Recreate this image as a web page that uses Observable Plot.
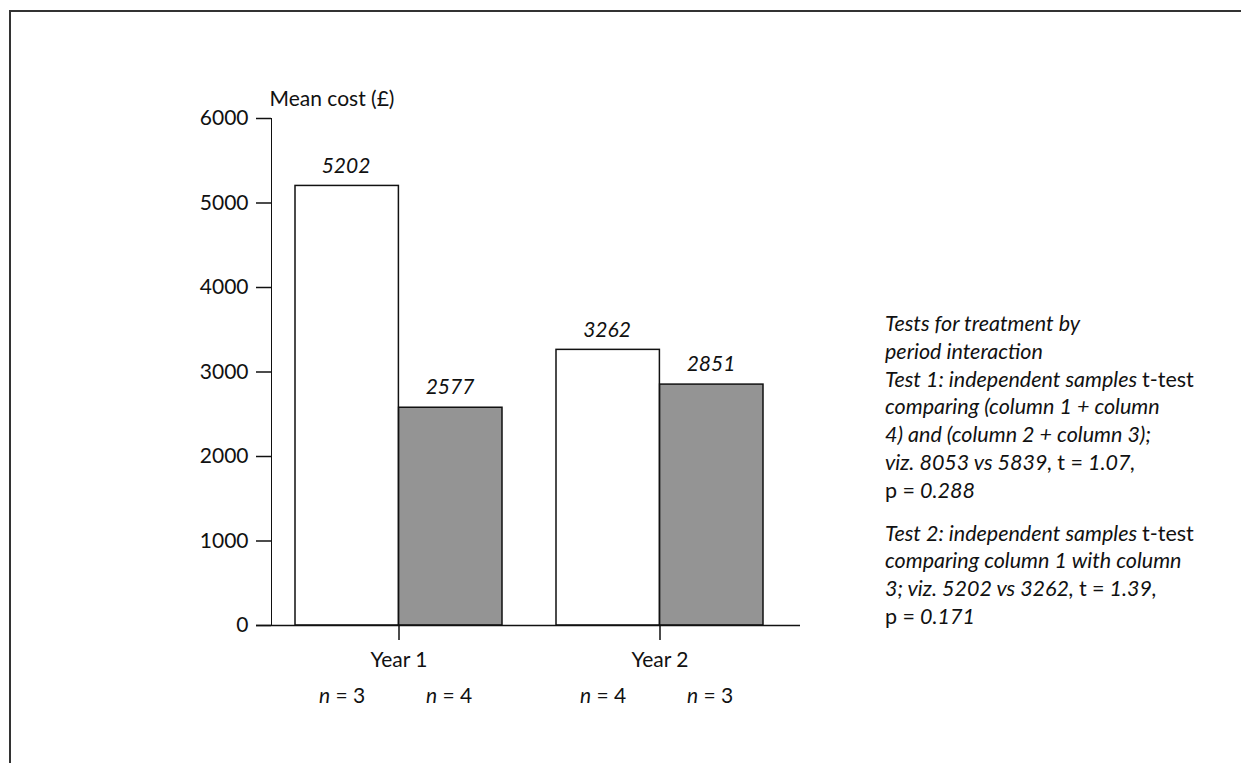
<!DOCTYPE html>
<html><head><meta charset="utf-8">
<script src="https://cdn.jsdelivr.net/npm/d3@7"></script>
<script src="https://cdn.jsdelivr.net/npm/@observablehq/plot@0.6"></script>
<style>
html,body{margin:0;padding:0;background:#fff;overflow:hidden;width:1241px;height:763px;}
#frame{position:absolute;left:9px;top:10px;width:1400px;height:1000px;border:2px solid #333;box-sizing:border-box;}
#chart{position:absolute;left:0;top:0;}
#note{position:absolute;left:885px;top:310px;font-family:Lato,sans-serif;font-size:21.5px;line-height:27.8px;font-style:italic;color:#111;}
#note .u{font-style:normal}
#note p{margin:0}
#note p + p{margin-top:15px}
</style>
</head><body>
<div id="frame"></div>
<div id="chart"></div>
<div id="note">
<p>Tests for treatment by<br>period interaction<br>Test 1: independent samples <span class="u">t-test</span><br>comparing (column 1 + column<br>4) and (column 2 + column 3);<br>viz. 8053 vs 5839, <span class="u">t =</span> 1.07,<br><span class="u">p =</span> 0.288</p>
<p>Test 2: independent samples <span class="u">t-test</span><br>comparing column 1 with column<br>3; viz. 5202 vs 3262, <span class="u">t =</span> 1.39,<br><span class="u">p =</span> 0.171</p>
</div>
<script>
// ---- data ----
const years = ["Year 1", "Year 2"];
const columns = ["column 1", "column 2", "column 3", "column 4"];
const columnYear = ["Year 1", "Year 1", "Year 2", "Year 2"];
const columnSide = ["first", "second", "first", "second"];
const meanCost = [5202, 2577, 3262, 2851];
const sampleN = [3, 4, 4, 3];
const yTicks = [0, 1000, 2000, 3000, 4000, 5000, 6000];
const yLabel = "Mean cost (£)";

const rows = columns.map((c, i) => ({column: c, year: columnYear[i], side: columnSide[i], mean: meanCost[i], n: sampleN[i]}));
const first = rows.filter(d => d.side === "first");
const second = rows.filter(d => d.side === "second");

const half = 103.6;
const ink = "#111";

const plot = Plot.plot({
  width: 1241,
  height: 763,
  marginLeft: 271,
  marginRight: 441,
  marginTop: 118,
  marginBottom: 138,
  style: {fontFamily: "Lato, sans-serif", fontSize: "21px", color: ink, background: "transparent", overflow: "visible"},
  x: {domain: years, paddingInner: 0.208, paddingOuter: 0.115, align: 0.39, tickSize: 15, tickPadding: 12, label: null},
  y: {domain: [0, 6000], ticks: yTicks, tickSize: 15, tickPadding: 8, line: true, label: null, tickFormat: d => String(d)},
  marks: [
    Plot.barY(first, {x: "year", y: "mean", fill: "white", stroke: ink, strokeWidth: 1.5, insetLeft: 0, insetRight: half}),
    Plot.barY(second, {x: "year", y: "mean", fill: "#949494", stroke: ink, strokeWidth: 1.5, insetRight: 0, insetLeft: half}),
    Plot.ruleY([0], {stroke: ink, strokeWidth: 1.5, insetLeft: -15}),
    Plot.text(first, {x: "year", y: "mean", text: d => String(d.mean), dx: -53, dy: -20, fontStyle: "italic", fill: ink}),
    Plot.text(second, {x: "year", y: "mean", text: d => String(d.mean), dx: 51, dy: -20, fontStyle: "italic", fill: ink}),
    Plot.text(first, {x: "year", text: d => `n = ${d.n}`, frameAnchor: "bottom", dx: -57, dy: 77, fill: ink}),
    Plot.text(second, {x: "year", text: d => `n = ${d.n}`, frameAnchor: "bottom", dx: 50, dy: 77, fill: ink}),
    Plot.text([yLabel], {frameAnchor: "top-left", textAnchor: "start", dx: -2, dy: -27, fill: ink})
  ]
});
document.getElementById("chart").appendChild(plot);

// italic "n" in sample-size labels
d3.select(plot).selectAll("text").each(function() {
  const t = this.textContent;
  if (!/^n = \d+$/.test(t)) return;
  const sel = d3.select(this);
  sel.text(null);
  sel.append("tspan").attr("font-style", "italic").text("n");
  sel.append("tspan").text(t.slice(1));
});
d3.select(plot).selectAll('g[aria-label^="y-axis"], g[aria-label^="x-axis"]').attr("stroke-width", 1.5);
</script>
</body></html>
